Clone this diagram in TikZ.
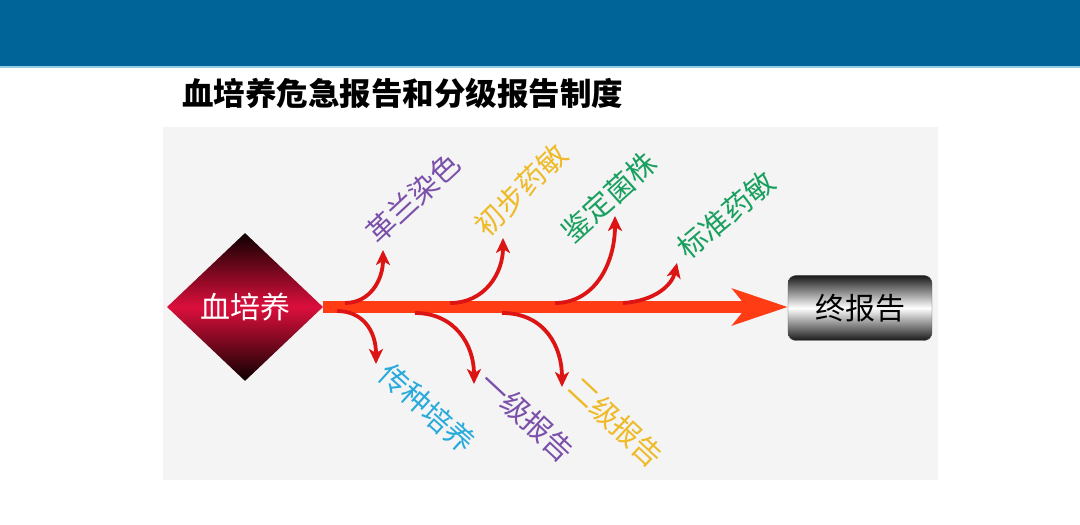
\documentclass[tikz,border=0pt]{standalone}
\usepackage{fontspec}
\newfontfamily\cjk{Noto Sans CJK SC}
\usetikzlibrary{arrows.meta,shapes.geometric}
\definecolor{barblue}{RGB}{0,100,152}
\definecolor{barline}{RGB}{150,205,230}
\definecolor{panel}{RGB}{244,244,244}
\definecolor{mainred}{RGB}{255,60,20}
\definecolor{branchred}{RGB}{220,20,20}
\definecolor{lpurple}{RGB}{122,80,170}
\definecolor{lgold}{RGB}{238,186,40}
\definecolor{lgreen}{RGB}{25,160,95}
\definecolor{lcyan}{RGB}{40,170,220}
\definecolor{crimson}{RGB}{220,15,60}
\tikzset{
  branch/.style={draw=branchred, line width=3.8pt, line cap=butt,
    -{Stealth[length=15pt,width=14pt,inset=4pt]}},
  mainarrow/.style={draw=mainred, line width=12pt,
    -{Stealth[length=55pt,width=36pt,inset=14pt]}},
  lbl/.style={font=\cjk\fontsize{29}{30}\selectfont, inner sep=0pt},
}
\begin{document}
\begin{tikzpicture}[x=1pt,y=1pt]
\useasboundingbox (0,0) rectangle (1080,525);
\fill[white] (0,0) rectangle (1080,525);
\fill[barblue] (0,459) rectangle (1080,525);
\fill[barline] (0,457) rectangle (1080,459);
\node[anchor=west, inner sep=0pt, font=\cjk\bfseries\fontsize{31.5}{32}\selectfont] (title) at (182,432) {血培养危急报告和分级报告制度};
\fill[panel] (163,45) rectangle (938,398);
% source diamond
\node[diamond, inner sep=0pt, minimum width=156pt, minimum height=148pt,
      top color=black!95!red, bottom color=black!95!red, middle color=crimson,
      text=white, font=\cjk\fontsize{30}{31}\selectfont] (src) at (245,218) {血培养};
% final box
\node[rectangle, rounded corners=8pt, minimum width=144pt, minimum height=65pt,
      top color=black!90, bottom color=black!90, middle color=white, draw=black!70,
      font=\cjk\fontsize{30}{31}\selectfont] (fin) at (860,217) {终报告};
% main arrow
\draw[mainarrow] (src.east) -- (src.east -| fin.west);
% branch coordinates
\coordinate (u1s) at (345,222); \coordinate (u1e) at (383,275);
\coordinate (u2s) at (450,222); \coordinate (u2e) at (503,287);
\coordinate (u3s) at (555,222); \coordinate (u3e) at (615,309);
\coordinate (u4s) at (623,222); \coordinate (u4e) at (677,262);
\coordinate (d1s) at (337,214); \coordinate (d1e) at (376,161);
\coordinate (d2s) at (415,212); \coordinate (d2e) at (474,141);
\coordinate (d3s) at (502,212); \coordinate (d3e) at (562,138);
\draw[branch] (u1s) .. controls (370,222) and (383,245) .. (u1e);
\draw[branch] (u2s) .. controls (485,222) and (503,252) .. (u2e);
\draw[branch] (u3s) .. controls (595,222) and (615,262) .. (u3e);
\draw[branch] (u4s) .. controls (655,224) and (672,240) .. (u4e);
\draw[branch] (d1s) .. controls (362,214) and (376,195) .. (d1e);
\draw[branch] (d2s) .. controls (455,212) and (474,180) .. (d2e);
\draw[branch] (d3s) .. controls (545,212) and (562,178) .. (d3e);
% labels
\node[lbl, text=lpurple, rotate=43] (l1) at (413,327) {革兰染色};
\node[lbl, text=lgold, rotate=45] (l2) at (521,335) {初步药敏};
\node[lbl, text=lgreen, rotate=42] (l3) at (609,328) {鉴定菌株};
\node[lbl, text=lgreen, rotate=40] (l4) at (726,310) {标准药敏};
\node[lbl, text=lcyan, rotate=-42] (l5) at (427,117) {传种培养};
\node[lbl, text=lpurple, rotate=-43] (l6) at (527,108) {一级报告};
\node[lbl, text=lgold, rotate=-43] (l7) at (616,103) {二级报告};
\end{tikzpicture}
\end{document}
